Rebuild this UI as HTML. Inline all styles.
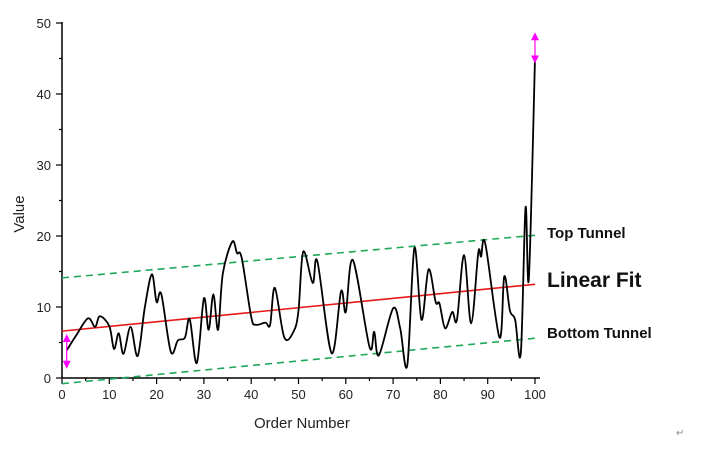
<!DOCTYPE html>
<html><head><meta charset="utf-8"><style>
body{margin:0;background:#fff;}
svg{display:block;font-family:"Liberation Sans",sans-serif;}
</style></head><body>
<svg id="chart" width="704" height="460" viewBox="0 0 704 460">
<g id="axes"></g>
<g id="marks"></g>
<text x="547" y="238" font-size="15" font-weight="bold" fill="#111">Top Tunnel</text>
<text x="547" y="287" font-size="21" font-weight="bold" fill="#111">Linear Fit</text>
<text x="547" y="338" font-size="15" font-weight="bold" fill="#111">Bottom Tunnel</text>
<text x="676" y="436" font-size="10" fill="#888">↵</text>
</svg>
<script>
const xs=[1,3,5.5,7,8,10,11,12,13,14.5,16,17.5,19,20,21,23,24.5,26,27,28.5,30,31,32,33,34,36,37,38,40,41,43,44,45,47,49,50,51,53,54,57,59,60,61.5,65,66,67,70,71.5,73,74.5,76,77.5,79,79.8,81,82.5,83.5,85,86.5,88,88.6,89.5,92.5,93.5,94.7,95.8,97,98,98.7,100];
const vals=[3.9,6,8.4,7.2,8.7,7.3,4.1,6.3,3.4,7.2,3.1,9.9,14.6,10.7,11.8,3.7,5.3,5.7,8.3,2.1,11.2,6.8,11.8,6.8,14.7,19.2,17.6,16.9,8.6,7.5,7.8,7.5,12.7,5.7,6.6,9.5,17.8,13.4,16.4,3.5,12.2,9.3,16.6,4.4,6.5,3.2,9.8,7.0,1.8,18.3,8.2,15.3,10.7,10.5,7.0,9.3,8.2,17.3,7.7,17.6,17.1,18.9,5.7,14.3,9.5,8.2,3.5,24,14,45];
const fitLine=[6.6,13.2];
const topTunnel=[14.1,20.1];
const bottomTunnel=[-0.8,5.6];
const xTicks=[0,10,20,30,40,50,60,70,80,90,100];
const yTicks=[0,10,20,30,40,50];
const NS="http://www.w3.org/2000/svg";
const X=v=>62+v*4.73, Y=v=>378-v*7.1;
const axes=document.getElementById('axes'), marks=document.getElementById('marks');
function mk(tag,attrs,parent){const e=document.createElementNS(NS,tag);for(const k in attrs)e.setAttribute(k,attrs[k]);parent.appendChild(e);return e;}
let e=mk('line',{x1:62,y1:378,x2:540,y2:378,stroke:'#000','stroke-width':1.5},axes);


e=mk('line',{x1:62,y1:22,x2:62,y2:378,stroke:'#000','stroke-width':1.5},axes);


for(let i=0;i<=100;i+=5){const major=i%10===0;
 e=mk('line',{x1:X(i),y1:378,x2:X(i),y2:378+(major?6:3),stroke:'#000','stroke-width':1.2},axes);
 
 }
xTicks.forEach(t=>{e=mk('text',{x:X(t),y:399,'font-size':13,'text-anchor':'middle',fill:'#222'},axes);e.textContent=t;
 
 });
for(let i=0;i<=50;i+=5){const major=i%10===0;
 e=mk('line',{x1:62-(major?6:3),y1:Y(i),x2:62,y2:Y(i),stroke:'#000','stroke-width':1.2},axes);
 
 }
yTicks.forEach(t=>{e=mk('text',{x:51,y:Y(t)+5,'font-size':13,'text-anchor':'end',fill:'#222'},axes);e.textContent=t;
 
 });
e=mk('text',{x:254,y:428,'font-size':15,fill:'#222'},axes);e.textContent='Order Number';


e=mk('text',{x:24,y:214,'font-size':15,fill:'#222',transform:'rotate(-90 24 214)','text-anchor':'middle'},axes);e.textContent='Value';


function ln(arr,attrs,name){e=mk('line',Object.assign({x1:X(0),y1:Y(arr[0]),x2:X(100),y2:Y(arr[1])},attrs),marks);
 
 }
ln(topTunnel,{stroke:'#1fa85a','stroke-width':1.6,'stroke-dasharray':'7 5'},'top-tunnel-line');
ln(bottomTunnel,{stroke:'#1fa85a','stroke-width':1.6,'stroke-dasharray':'7 5'},'bottom-tunnel-line');
ln(fitLine,{stroke:'#e81818','stroke-width':1.6},'linear-fit-line');
// smooth curve (Catmull-Rom)
const P=xs.map((x,i)=>[X(x),Y(vals[i])]);
let d='M'+P[0][0]+','+P[0][1];
for(let i=0;i<P.length-1;i++){const p0=P[Math.max(0,i-1)],p1=P[i],p2=P[i+1],p3=P[Math.min(P.length-1,i+2)];
 const c1=[p1[0]+(p2[0]-p0[0])/6,p1[1]+(p2[1]-p0[1])/6],c2=[p2[0]-(p3[0]-p1[0])/6,p2[1]-(p3[1]-p1[1])/6];
 d+=' C'+c1+' '+c2+' '+p2;}
e=mk('path',{d:d,fill:'none',stroke:'#000','stroke-width':1.8},marks);


function arrow(xv,a,b){const x=X(xv),y1=Y(b),y2=Y(a);
 e=mk('path',{d:`M${x},${y1} L${x},${y2} M${x-3},${y1+6} L${x},${y1} L${x+3},${y1+6}Z M${x-3},${y2-6} L${x},${y2} L${x+3},${y2-6}Z`,stroke:'#ff00ff',fill:'#ff00ff','stroke-width':1.2},marks);
 
 }
arrow(1,1.5,6);arrow(100,44.5,48.5);
</script>
</body></html>
